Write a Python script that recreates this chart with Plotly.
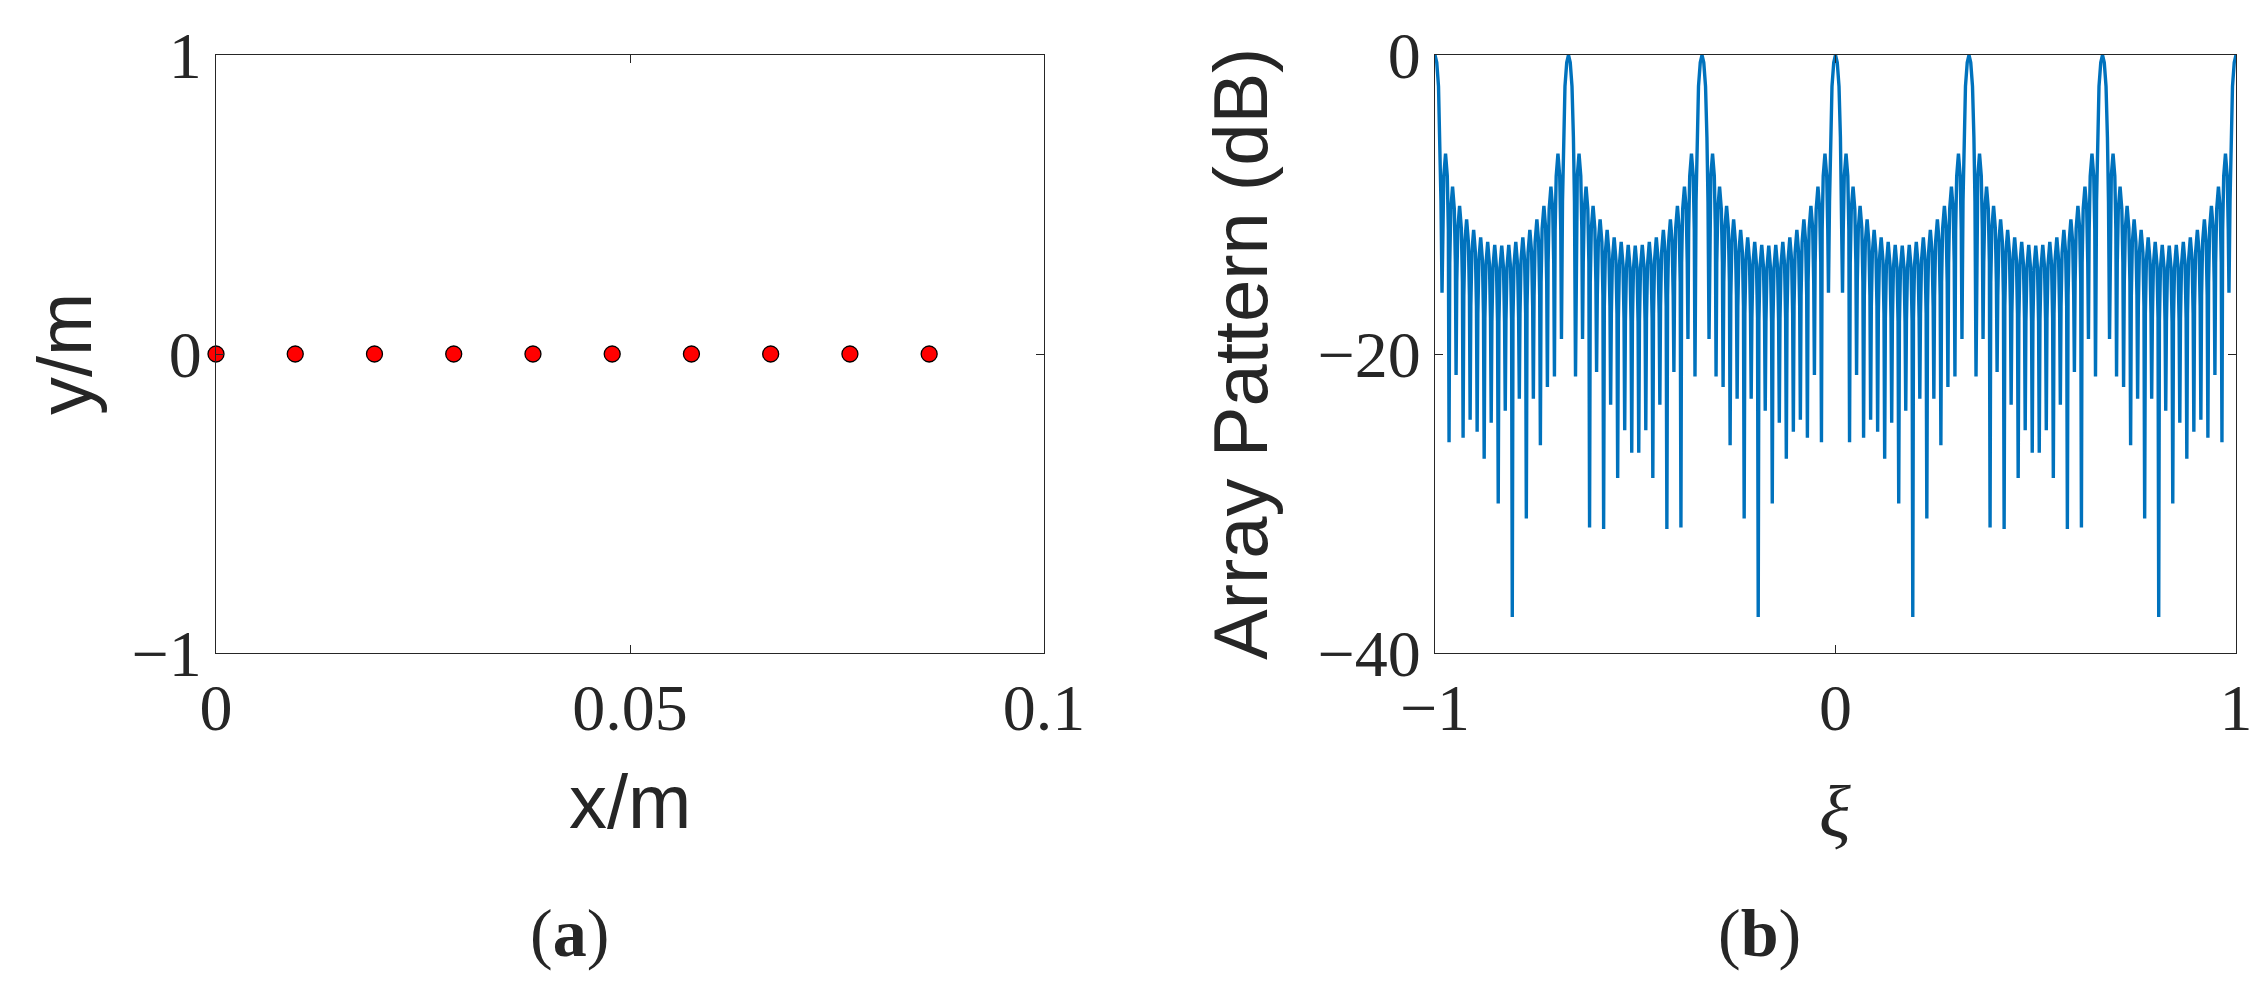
import plotly.graph_objects as go

# ---------------- data ----------------
# (a) element positions of the linear array (metres)
element_x = [0.0, 0.00957, 0.01914, 0.02871, 0.03828, 0.04785, 0.05742, 0.06699, 0.07656, 0.08613]
element_y = [0, 0, 0, 0, 0, 0, 0, 0, 0, 0]

# (b) array pattern: grating lobes (0 dB) and lobe extrema between them
grating_lobe_xi = [-1.0, -0.6667, -0.3333, 0.0, 0.3333, 0.6667, 1.0]
grating_lobe_db = [0.0, 0.0, 0.0, 0.0, 0.0, 0.0, 0.0]

# side-lobe peak levels between two grating lobes (same in every interval)
sidelobe_db = [-6.6, -8.8, -10.1, -11.0, -11.7, -12.2, -12.5, -12.7, -12.75,
               -12.7, -12.5, -12.2, -11.7, -11.0, -10.1, -8.8, -6.6]

# null depths in each of the six intervals between grating lobes
null_db_1 = [-15.9, -25.9, -21.4, -25.6, -24.4, -25.2, -27.0, -24.6, -30.0,
             -23.8, -37.6, -23.0, -31.0, -23.0, -26.1, -22.2, -21.5, -19.0]
null_db_2 = [-21.5, -19.0, -31.6, -21.2, -31.7, -23.4, -28.3, -25.1, -26.6,
             -26.6, -25.1, -28.3, -23.4, -31.7, -21.2, -31.6, -19.0, -21.5]
null_db_3 = [-19.0, -21.5, -22.2, -26.1, -23.0, -31.0, -23.0, -37.6, -23.8,
             -30.0, -24.6, -27.0, -25.2, -24.4, -25.6, -21.4, -25.9, -15.9]
null_db_4 = [-15.9, -25.9, -21.4, -25.6, -24.4, -25.2, -27.0, -24.6, -30.0,
             -23.8, -37.6, -23.0, -31.0, -23.0, -26.1, -22.2, -21.5, -19.0]
null_db_5 = [-21.5, -19.0, -31.6, -21.2, -31.7, -23.4, -28.3, -25.1, -26.6,
             -26.6, -25.1, -28.3, -23.4, -31.7, -21.2, -31.6, -19.0, -21.5]
null_db_6 = [-19.0, -21.5, -22.2, -26.1, -23.0, -31.0, -23.0, -37.6, -23.8,
             -30.0, -24.6, -27.0, -25.2, -24.4, -25.6, -21.4, -25.9, -15.9]
null_db = [null_db_1, null_db_2, null_db_3, null_db_4, null_db_5, null_db_6]

# lobe outlines (offset in null spacings from the lobe top, level below the top in dB)
main_lobe_offset = [0.25, 0.5, 0.7, 0.85]
main_lobe_drop_db = [0.5, 2.1, 5.5, 9.8]
side_lobe_offset = [0.25, 0.4]
side_lobe_drop_db = [1.5, 5.1]

x_ticks_a = [0, 0.05, 0.1]
x_ticktext_a = ["0", "0.05", "0.1"]
y_ticks_a = [-1, 0, 1]
y_ticktext_a = ["\u22121", "0", "1"]
x_ticks_b = [-1, 0, 1]
x_ticktext_b = ["\u22121", "0", "1"]
y_ticks_b = [-40, -20, 0]
y_ticktext_b = ["\u221240", "\u221220", "0"]

# ---------------- assemble the pattern polyline ----------------
pts = []
for i in range(len(grating_lobe_xi) - 1):
    a = grating_lobe_xi[i]
    b = grating_lobe_xi[i + 1]
    nulls = null_db[i]
    step = (b - a) / (len(nulls) + 1)
    for m, v in enumerate(nulls, start=1):
        pts.append((a + m * step, v))
    for k, p in enumerate(sidelobe_db, start=1):
        c = a + (k + 0.5) * step
        pts.append((c, p))
        for o, d in zip(side_lobe_offset, side_lobe_drop_db):
            pts.append((c - o * step, p - d))
            pts.append((c + o * step, p - d))
    for g, gd in ((a, grating_lobe_db[i]), (b, grating_lobe_db[i + 1])):
        pts.append((g, gd))
    for o, d in zip(main_lobe_offset, main_lobe_drop_db):
        pts.append((a + o * step, grating_lobe_db[i] - d))
        pts.append((b - o * step, grating_lobe_db[i + 1] - d))
pts = sorted(set(pts))
pat_x = [p[0] for p in pts]
pat_y = [p[1] for p in pts]

# ---------------- figure ----------------
W, H = 2268, 999
AX = "#262626"
serif = "Liberation Serif"
sans = "Liberation Sans"

fig = go.Figure()
fig.add_trace(go.Scatter(
    x=element_x, y=element_y, mode="markers", xaxis="x", yaxis="y",
    marker=dict(color="#ff0000", size=16, line=dict(color="#000000", width=1.3)),
    cliponaxis=False, showlegend=False, hoverinfo="skip"))
fig.add_trace(go.Scatter(
    x=pat_x, y=pat_y, mode="lines", xaxis="x2", yaxis="y2",
    line=dict(color="#0072BD", width=3.4), showlegend=False, hoverinfo="skip"))

common = dict(showline=True, linecolor=AX, linewidth=1.3, mirror="allticks",
              ticks="inside", ticklen=8, tickwidth=1.3, tickcolor=AX,
              showgrid=False, zeroline=False, automargin=False,
              tickfont=dict(family=serif, size=66, color=AX))

y_dom = [1 - 653 / H, 1 - 55 / H]
fig.update_layout(
    width=W, height=H, margin=dict(l=0, r=0, t=0, b=0),
    paper_bgcolor="white", plot_bgcolor="white",
    xaxis=dict(domain=[216 / W, 1044 / W], range=[0, 0.1], anchor="y",
               tickvals=x_ticks_a, ticktext=x_ticktext_a, ticklabelstandoff=-3, **common),
    yaxis=dict(domain=y_dom, range=[-1, 1], anchor="x",
               tickvals=y_ticks_a, ticktext=y_ticktext_a, **common),
    xaxis2=dict(domain=[1435 / W, 2236 / W], range=[-1, 1], anchor="y2",
                tickvals=x_ticks_b, ticktext=x_ticktext_b, ticklabelstandoff=-3, **common),
    yaxis2=dict(domain=y_dom, range=[-40, 0], anchor="x2",
                tickvals=y_ticks_b, ticktext=y_ticktext_b, **common),
)

def ann(text, x, y, font, size, angle=0):
    fig.add_annotation(text=text, x=x / W, y=1 - y / H, xref="paper", yref="paper",
                       showarrow=False, xanchor="center", yanchor="middle",
                       textangle=angle, font=dict(family=font, size=size, color=AX))

ann("x/m", 630, 801, sans, 76)
ann("y/m", 64, 354, sans, 76, -90)
ann("Array Pattern (dB)", 1240, 354, sans, 76, -90)
ann("<i>\u03be</i>", 1835, 812, serif, 74)
ann("(<b>a</b>)", 569, 933, serif, 68)
ann("(<b>b</b>)", 1759, 933, serif, 68)

fig.write_html("out.html", config={"displayModeBar": False},
               post_script="document.body.style.margin='0px';")
